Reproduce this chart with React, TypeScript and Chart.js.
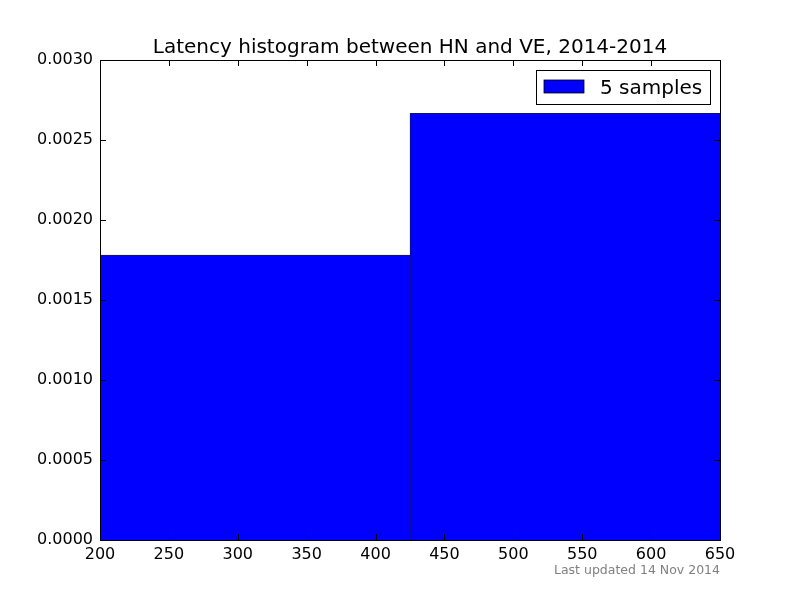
import React, { useEffect, useRef } from "react";
import { Chart, registerables } from "chart.js";

Chart.register(...registerables);

// ---- data ----
const binCenters = [312.5, 537.5]; // bin edges 200-425, 425-650
const densities = [0.00178, 0.002667];
const seriesLabel = "5 samples";
const xTickValues = [200, 250, 300, 350, 400, 450, 500, 550, 600, 650];
const yTickValues = [0, 0.0005, 0.001, 0.0015, 0.002, 0.0025, 0.003];
const chartTitle = "Latency histogram between HN and VE, 2014-2014";
const footerText = "Last updated 14 Nov 2014";

const FONT = "'DejaVu Sans', sans-serif";

const decorPlugin = {
  id: "decor",
  afterDatasetsDraw(chart: any) {
    const { ctx, chartArea } = chart;
    const { left, right, top, bottom } = chartArea;
    const xs = chart.scales.x;
    const ys = chart.scales.y;
    ctx.save();
    ctx.strokeStyle = "#000";
    ctx.lineWidth = 1;
    // ticks (inward, all four sides)
    ctx.beginPath();
    const TL = 6;
    xTickValues.forEach((v) => {
      const px = Math.round(xs.getPixelForValue(v)) + 0.5;
      ctx.moveTo(px, bottom);
      ctx.lineTo(px, bottom - TL);
      ctx.moveTo(px, top);
      ctx.lineTo(px, top + TL);
    });
    yTickValues.forEach((v) => {
      const py = Math.round(ys.getPixelForValue(v)) + 0.5;
      ctx.moveTo(left, py);
      ctx.lineTo(left + TL, py);
      ctx.moveTo(right, py);
      ctx.lineTo(right - TL, py);
    });
    ctx.stroke();
    // frame
    ctx.strokeRect(Math.round(left) + 0.5, Math.round(top) + 0.5, Math.round(right - left), Math.round(bottom - top));

    // legend
    const lx = 536, ly = 70, lw = 174, lh = 34;
    ctx.fillStyle = "#fff";
    ctx.fillRect(lx, ly, lw, lh);
    ctx.strokeRect(lx + 0.5, ly + 0.5, lw, lh);
    ctx.fillStyle = chart.data.datasets[0].backgroundColor;
    ctx.fillRect(544, 80, 40, 13);
    ctx.lineWidth = 0.8;
    ctx.strokeRect(544, 80, 40, 13);
    ctx.fillStyle = "#000";
    ctx.font = `20px ${FONT}`;
    ctx.textAlign = "left";
    ctx.textBaseline = "alphabetic";
    ctx.fillText(chart.data.datasets[0].label, 600, 94);

    // title
    ctx.textAlign = "center";
    ctx.fillText(chartTitle, (left + right) / 2, 53);

    // footer
    ctx.font = `12.5px ${FONT}`;
    ctx.fillStyle = "#808080";
    ctx.textAlign = "right";
    ctx.fillText(footerText, right, 574);
    ctx.restore();
  },
};

export default function App() {
  const canvasRef = useRef<HTMLCanvasElement | null>(null);

  useEffect(() => {
    const canvas = canvasRef.current;
    if (!canvas) return;
    const chart = new Chart(canvas, {
      type: "bar",
      data: {
        datasets: [
          {
            label: seriesLabel,
            data: binCenters.map((x, i) => ({ x, y: densities[i] })),
            backgroundColor: "#0000ff",
            borderColor: "#1a1a40",
            borderWidth: 0.8,
            borderSkipped: "start",
            barPercentage: 1,
            categoryPercentage: 1,
            barThickness: "flex",
          } as any,
        ],
      },
      options: {
        animation: false,
        responsive: false,
        devicePixelRatio: 1,
        layout: { padding: { top: 60, right: 80, left: 0, bottom: 0 } },
        plugins: {
          legend: { display: false },
          title: { display: false },
          tooltip: { enabled: false },
        },
        scales: {
          x: {
            type: "linear",
            min: 200,
            max: 650,
            offset: false,
            grid: { display: false, drawTicks: false },
            border: { display: false },
            afterBuildTicks: (s: any) => {
              s.ticks = xTickValues.map((v) => ({ value: v }));
            },
            afterFit: (s: any) => {
              s.height = 60;
            },
            ticks: {
              autoSkip: false,
              maxRotation: 0,
              padding: 5,
              color: "#000",
              font: { family: FONT, size: 16 },
              callback: (v: any) => String(v),
            },
          },
          y: {
            type: "linear",
            min: 0,
            max: 0.003,
            grid: { display: false, drawTicks: false },
            border: { display: false },
            afterBuildTicks: (s: any) => {
              s.ticks = yTickValues.map((v) => ({ value: v }));
            },
            afterFit: (s: any) => {
              s.width = 100;
            },
            ticks: {
              autoSkip: false,
              padding: 7,
              color: "#000",
              font: { family: FONT, size: 16 },
              callback: (v: any) => Number(v).toFixed(4),
            },
          },
        },
      } as any,
      plugins: [decorPlugin],
    });
    return () => chart.destroy();
  }, []);

  return (
    <div style={{ position: "absolute", left: 0, top: 0, width: 800, height: 600, background: "#fff" }}>
      <canvas ref={canvasRef} width={800} height={600} style={{ width: 800, height: 600, display: "block" }} />
    </div>
  );
}
